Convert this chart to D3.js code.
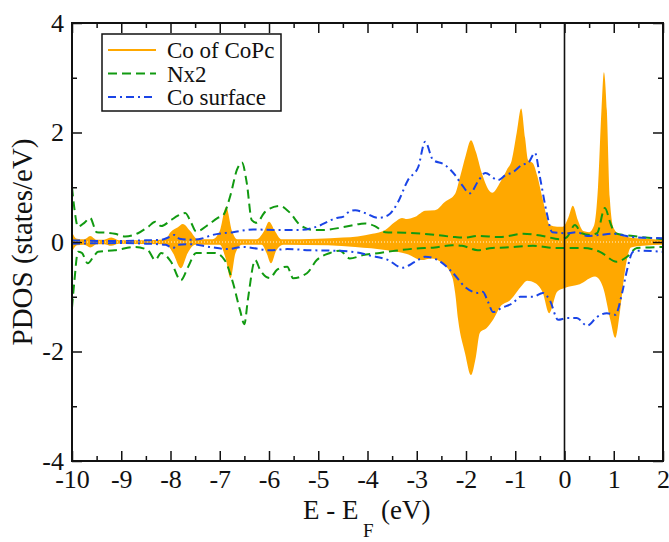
<!DOCTYPE html>
<html lang="en">
<head>
<meta charset="UTF-8">
<title>PDOS</title>
<script src="https://cdn.jsdelivr.net/npm/d3@7"></script>
<style>
  body { margin: 0; background: #fff; }
  text { font-family: "Liberation Serif", "DejaVu Serif", serif; fill: #111; }
</style>
</head>
<body>
<svg id="pdos" width="669" height="542"></svg>
<script>
// energies (eV) and PDOS values, spin up > 0, spin down < 0
let cocpcUp = [[-10,0.18],[-9.9,0.06],[-9.75,0.05],[-9.63,0.11],[-9.5,0.04],[-9.35,0.04],[-9.2,0.08],[-9.05,0.03],[-8.5,0.03],[-8.1,0.05],[-8.0,0.18],[-7.85,0.27],[-7.75,0.33],[-7.6,0.2],[-7.45,0.05],[-7.15,0.05],[-7.0,0.2],[-6.87,0.64],[-6.75,0.2],[-6.65,0.05],[-6.25,0.05],[-6.1,0.2],[-6.0,0.37],[-5.88,0.2],[-5.75,0.05],[-5.0,0.06],[-4.5,0.08],[-4.2,0.1],[-3.9,0.15],[-3.64,0.22],[-3.45,0.36],[-3.3,0.44],[-3.2,0.42],[-3.03,0.46],[-2.83,0.57],[-2.63,0.58],[-2.43,0.73],[-2.22,0.88],[-2.12,1.19],[-2.0,1.6],[-1.9,1.86],[-1.8,1.65],[-1.68,1.26],[-1.47,0.9],[-1.3,1.1],[-1.17,1.32],[-1.07,1.5],[-0.97,2.0],[-0.88,2.44],[-0.8,1.9],[-0.74,1.5],[-0.64,1.44],[-0.55,1.2],[-0.44,0.77],[-0.3,0.31],[-0.15,0.28],[-0.03,0.28],[0.08,0.45],[0.17,0.66],[0.27,0.4],[0.38,0.2],[0.5,0.18],[0.6,0.3],[0.68,1.0],[0.75,2.4],[0.8,3.1],[0.86,2.4],[0.92,0.8],[1.0,0.25],[1.1,0.15],[1.33,0.08],[1.6,0.06],[2.0,0.04]];
let cocpcDown = [[-10,-0.18],[-9.9,-0.06],[-9.75,-0.05],[-9.63,-0.1],[-9.5,-0.04],[-9.35,-0.04],[-9.2,-0.07],[-9.05,-0.03],[-8.1,-0.04],[-7.95,-0.2],[-7.79,-0.48],[-7.65,-0.2],[-7.5,-0.05],[-7.0,-0.05],[-6.88,-0.3],[-6.78,-0.66],[-6.68,-0.2],[-6.55,-0.05],[-6.15,-0.05],[-6.05,-0.2],[-5.96,-0.39],[-5.85,-0.15],[-5.7,-0.05],[-4.8,-0.06],[-4.25,-0.09],[-3.6,-0.15],[-3.2,-0.22],[-2.9,-0.33],[-2.7,-0.3],[-2.49,-0.38],[-2.28,-0.64],[-2.22,-0.93],[-2.16,-1.42],[-2.02,-2.03],[-1.9,-2.43],[-1.8,-2.1],[-1.72,-1.66],[-1.58,-1.57],[-1.45,-1.42],[-1.31,-1.19],[-1.1,-1.06],[-0.86,-0.79],[-0.76,-0.71],[-0.6,-0.75],[-0.44,-0.93],[-0.31,-1.3],[-0.15,-0.91],[0,-0.84],[0.31,-0.77],[0.62,-0.63],[0.78,-0.82],[0.93,-1.42],[1.03,-1.75],[1.13,-1.24],[1.23,-0.51],[1.35,-0.1],[1.6,-0.07],[2.0,-0.05]];

let nx2Up = [[-10,1.0],[-9.95,0.6],[-9.88,0.28],[-9.75,0.35],[-9.63,0.44],[-9.5,0.18],[-9.3,0.17],[-9.13,0.15],[-8.92,0.1],[-8.66,0.16],[-8.45,0.28],[-8.31,0.37],[-8.19,0.29],[-7.99,0.4],[-7.85,0.48],[-7.7,0.53],[-7.58,0.35],[-7.48,0.19],[-7.24,0.31],[-7.04,0.44],[-6.93,0.49],[-6.79,0.83],[-6.65,1.32],[-6.55,1.45],[-6.45,1.07],[-6.35,0.4],[-6.25,0.35],[-6.08,0.55],[-5.78,0.66],[-5.57,0.53],[-5.37,0.31],[-5.1,0.22],[-4.9,0.22],[-4.5,0.27],[-4.15,0.33],[-4.05,0.34],[-3.85,0.29],[-3.64,0.18],[-3.24,0.17],[-2.63,0.13],[-2.22,0.09],[-2.02,0.08],[-1.76,0.11],[-1.31,0.09],[-0.84,0.15],[-0.44,0.11],[-0.09,0.05],[0.05,0.09],[0.21,0.31],[0.35,0.16],[0.52,0.13],[0.66,0.16],[0.82,0.62],[0.93,0.35],[1.03,0.16],[1.39,0.11],[2.0,0.05]];
let nx2Down = [[-10,-1.2],[-9.95,-0.7],[-9.88,-0.18],[-9.8,-0.2],[-9.68,-0.39],[-9.55,-0.25],[-9.47,-0.18],[-9.13,-0.15],[-8.72,-0.09],[-8.46,-0.15],[-8.31,-0.33],[-8.19,-0.2],[-7.99,-0.36],[-7.79,-0.7],[-7.64,-0.45],[-7.48,-0.2],[-7.24,-0.2],[-7.1,-0.2],[-6.9,-0.33],[-6.73,-0.75],[-6.59,-1.24],[-6.5,-1.5],[-6.43,-1.06],[-6.28,-0.33],[-6.18,-0.51],[-5.98,-0.66],[-5.84,-0.51],[-5.63,-0.45],[-5.51,-0.66],[-5.23,-0.57],[-5.03,-0.33],[-4.76,-0.2],[-4.56,-0.16],[-4.36,-0.3],[-4.09,-0.24],[-3.75,-0.2],[-3.44,-0.16],[-3.03,-0.12],[-2.63,-0.1],[-2.28,-0.06],[-2.08,-0.07],[-1.76,-0.15],[-1.47,-0.11],[-1.2,-0.1],[-0.64,-0.07],[-0.15,-0.11],[0.38,-0.11],[0.72,-0.18],[1.06,-0.36],[1.27,-0.27],[1.47,-0.11],[2.0,-0.09]];

let surfUp = [[-10,0.03],[-9.5,0.02],[-9.0,0.02],[-8.5,0.03],[-8.2,0.04],[-8.0,0.1],[-7.92,0.13],[-7.82,0.06],[-7.6,0.04],[-7.38,0.06],[-7.14,0.13],[-6.73,0.18],[-6.32,0.23],[-5.9,0.22],[-5.37,0.22],[-5.03,0.28],[-4.62,0.44],[-4.5,0.46],[-4.36,0.56],[-4.25,0.58],[-4.05,0.53],[-3.79,0.44],[-3.58,0.49],[-3.38,0.73],[-3.18,1.13],[-2.97,1.37],[-2.83,1.83],[-2.67,1.5],[-2.43,1.41],[-2.22,1.22],[-2.08,1.04],[-1.92,0.89],[-1.76,1.1],[-1.61,1.26],[-1.35,1.13],[-1.2,1.22],[-1.04,1.28],[-0.86,1.41],[-0.74,1.44],[-0.6,1.63],[-0.5,1.19],[-0.36,0.53],[-0.25,0.18],[0.05,0.16],[0.25,0.18],[0.46,0.11],[0.72,0.13],[0.98,0.15],[1.39,0.09],[2.0,0.07]];
let surfDown = [[-10,-0.03],[-9.0,-0.02],[-8.5,-0.03],[-8.1,-0.05],[-7.95,-0.11],[-7.85,-0.05],[-7.6,-0.04],[-7.2,-0.09],[-6.85,-0.13],[-6.53,-0.09],[-5.98,-0.15],[-5.63,-0.13],[-5.17,-0.15],[-4.62,-0.16],[-4.15,-0.2],[-3.99,-0.24],[-3.58,-0.33],[-3.3,-0.47],[-3.03,-0.36],[-2.83,-0.27],[-2.57,-0.33],[-2.28,-0.55],[-2.02,-0.82],[-1.76,-0.93],[-1.66,-0.91],[-1.55,-1.1],[-1.45,-1.28],[-1.27,-1.2],[-1.04,-1.11],[-0.9,-1.0],[-0.64,-1.0],[-0.44,-0.93],[-0.3,-1.06],[-0.13,-1.42],[0.05,-1.39],[0.25,-1.39],[0.46,-1.53],[0.66,-1.37],[0.86,-1.3],[1.03,-1.33],[1.17,-0.93],[1.27,-0.51],[1.39,-0.18],[1.53,-0.16],[2.0,-0.18]];

let xMajor = d3.range(-10, 2.01, 1);
let xMinor = d3.range(-9.5, 2, 1);
let yMajor = [-4, -2, 0, 2, 4];
let yMinor = [-3, -1, 1, 3];
let legendNames = ["Co of CoPc", "Nx2", "Co surface"];

let orange = "#ffa800", green = "#119a11", blue = "#1a44e6";

let svg = d3.select("#pdos");
let plotLeft = 72, plotRight = 663, plotTop = 23, plotBottom = 461;

let x = d3.scaleLinear().domain([-10, 2]).range([plotLeft, plotRight]);
let y = d3.scaleLinear().domain([-4, 4]).range([plotBottom, plotTop]);

let plot = svg.append("g");

let area = d3.area().x(d => x(d[0])).y0(y(0)).y1(d => y(d[1])).curve(d3.curveMonotoneX);
let line = d3.line().x(d => x(d[0])).y(d => y(d[1])).curve(d3.curveMonotoneX);

// Co of CoPc filled
[cocpcUp, cocpcDown].forEach(s => {
    plot.append("path").attr("d", area(s)).attr("fill", orange);
});
plot.append("line")
    .attr("x1", x(-10)).attr("x2", x(2)).attr("y1", y(0)).attr("y2", y(0))
    .attr("stroke", "#fff3d6").attr("stroke-width", 1).attr("stroke-dasharray", "1,2");

// Nx2 dashed
[nx2Up, nx2Down].forEach(s => {
    plot.append("path").attr("d", line(s)).attr("fill", "none")
        .attr("stroke", green).attr("stroke-width", 2).attr("stroke-dasharray", "9,5");
});
// Co surface dash-dot
[surfUp, surfDown].forEach(s => {
    plot.append("path").attr("d", line(s)).attr("fill", "none")
        .attr("stroke", blue).attr("stroke-width", 2).attr("stroke-dasharray", "8,4,2,4");
});

// Fermi level
svg.append("line")
    .attr("x1", x(0)).attr("x2", x(0)).attr("y1", plotTop).attr("y2", plotBottom)
    .attr("stroke", "#111").attr("stroke-width", 1.6);

// axes, ticks pointing inward
function styleAxis(g) {
    g.select(".domain").remove();
    g.selectAll(".tick line").attr("stroke", "#111").attr("stroke-width", 1.5);
    g.selectAll(".tick text").attr("font-size", 26).attr("fill", "#111")
        .attr("font-family", "Liberation Serif, serif");
}
let fmt = d => String(d);

svg.append("g").attr("transform", `translate(0,${plotBottom})`)
    .call(d3.axisBottom(x).tickValues(xMajor).tickSize(-10).tickPadding(9).tickFormat(fmt)).call(styleAxis);
svg.append("g").attr("transform", `translate(0,${plotBottom})`)
    .call(d3.axisBottom(x).tickValues(xMinor).tickSize(-5).tickFormat("")).call(styleAxis);
svg.append("g").attr("transform", `translate(0,${plotTop})`)
    .call(d3.axisTop(x).tickValues(xMajor).tickSize(-10).tickFormat("")).call(styleAxis);
svg.append("g").attr("transform", `translate(0,${plotTop})`)
    .call(d3.axisTop(x).tickValues(xMinor).tickSize(-5).tickFormat("")).call(styleAxis);

svg.append("g").attr("transform", `translate(${plotLeft},0)`)
    .call(d3.axisLeft(y).tickValues(yMajor).tickSize(-10).tickPadding(8).tickFormat(fmt)).call(styleAxis);
svg.append("g").attr("transform", `translate(${plotLeft},0)`)
    .call(d3.axisLeft(y).tickValues(yMinor).tickSize(-5).tickFormat("")).call(styleAxis);
svg.append("g").attr("transform", `translate(${plotRight},0)`)
    .call(d3.axisRight(y).tickValues(yMajor).tickSize(-10).tickFormat("")).call(styleAxis);
svg.append("g").attr("transform", `translate(${plotRight},0)`)
    .call(d3.axisRight(y).tickValues(yMinor).tickSize(-5).tickFormat("")).call(styleAxis);

// frame
svg.append("rect")
    .attr("x", plotLeft).attr("y", plotTop).attr("width", plotRight - plotLeft).attr("height", plotBottom - plotTop)
    .attr("fill", "none").attr("stroke", "#111").attr("stroke-width", 2);

// axis titles
svg.append("text")
    .attr("transform", `translate(32,${(plotTop + plotBottom) / 2}) rotate(-90)`)
    .attr("text-anchor", "middle").attr("font-size", 29)
    .text("PDOS (states/eV)");

let xt = svg.append("text").attr("y", 519).attr("font-size", 27);
xt.append("tspan").attr("x", 303).text("E - E");
xt.append("tspan").attr("x", 381).text("(eV)");
svg.append("text").attr("x", 363).attr("y", 537).attr("font-size", 19).text("F");

// legend
let lg = svg.append("g");
lg.append("rect").attr("x", 102).attr("y", 34).attr("width", 179).attr("height", 77)
    .attr("fill", "#fff").attr("stroke", "#111").attr("stroke-width", 1.5);
let legendStyle = [
    { stroke: orange, dash: null },
    { stroke: green, dash: "9,5" },
    { stroke: blue, dash: "8,4,2,4" }
];
legendNames.forEach((name, i) => {
    let ly = 50 + i * 23.5;
    lg.append("line").attr("x1", 108).attr("x2", 156).attr("y1", ly).attr("y2", ly)
        .attr("stroke", legendStyle[i].stroke).attr("stroke-width", 2)
        .attr("stroke-dasharray", legendStyle[i].dash);
    lg.append("text").attr("x", 167).attr("y", ly + 8).attr("font-size", 23).text(name);
});
</script>
</body>
</html>
